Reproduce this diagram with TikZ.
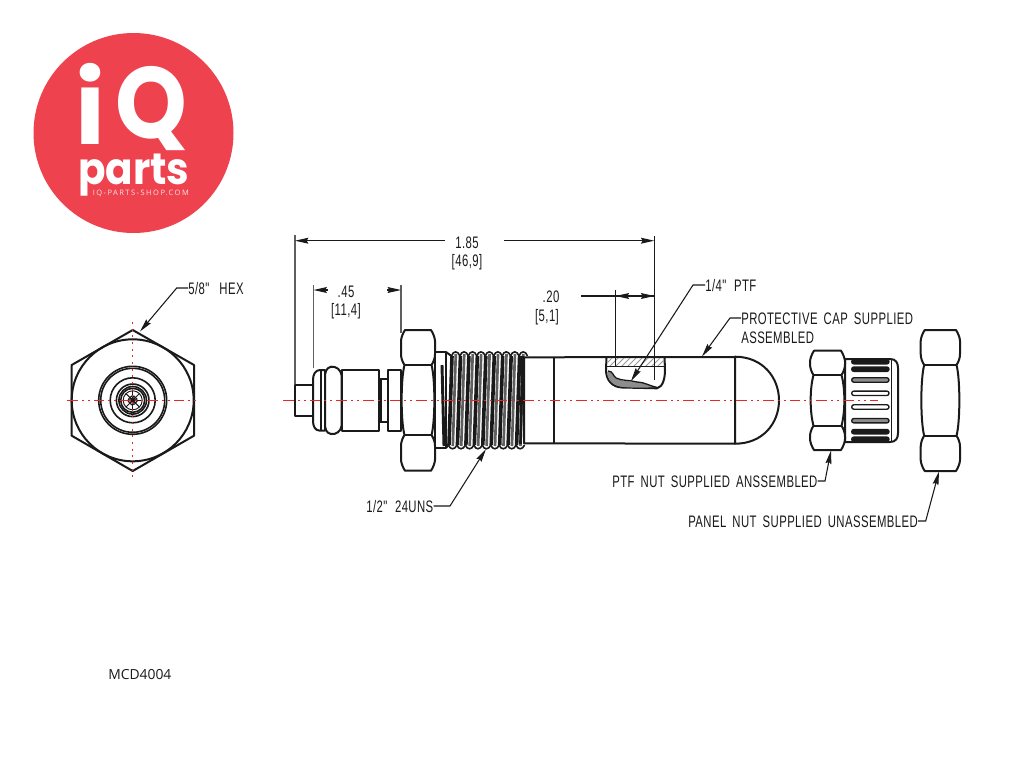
\documentclass[tikz,border=0pt]{standalone}
\usepackage{fontspec}
\usetikzlibrary{arrows.meta}
\setmainfont{Liberation Sans}
\newfontfamily\cad[FakeStretch=0.68,LetterSpace=2.6,WordSpace=1.7]{Liberation Sans}
\newfontfamily\pop{Poppins}
\newfontfamily\popn[FakeStretch=0.92]{Poppins}
\newfontfamily\popq[FakeStretch=0.9]{Poppins}
\newfontfamily\plain{Open Sans}
\definecolor{logored}{HTML}{EE424F}
\definecolor{cred}{HTML}{E8262C}
\definecolor{ink}{HTML}{1A1A1A}
\tikzset{
  part/.style={draw=ink,line width=1.5pt,line join=round,fill=white},
  edge/.style={draw=ink,line width=1.5pt,line join=round},
  thin ink/.style={draw=ink,line width=0.7pt},
  ext/.style={draw=ink!70,line width=1pt},
  dimline/.style={draw=ink,line width=0.9pt},
  tipped/.style={draw=ink,line width=0.8pt,-{Stealth[length=10pt,width=4.4pt,inset=1.2pt]}},
  centre h/.style={draw=cred,line width=0.8pt,dash pattern=on 8pt off 3pt on 1.5pt off 3pt on 1.5pt off 3pt},
  centre v/.style={draw=cred,line width=0.9pt,dash pattern=on 1.5pt off 3.5pt},
  lbl/.style={inner sep=0pt,anchor=base west,font=\cad\fontsize{12.5}{14}\selectfont,text=ink},
  lblc/.style={inner sep=0pt,anchor=base,font=\cad\fontsize{12.5}{14}\selectfont,text=ink},
}
% side view of a hexagon nut: L, R, T, y1, y2, B
\newcommand{\nutside}[6]{%
  \path[part] ({#1+4},#3) -- ({#2-4},#3)
    .. controls ({#2-2},{#3+3}) and (#2,{#3+8}) .. (#2,{#3+11})
    -- (#2,{#4-11}) .. controls (#2,{#4-7}) and ({#2-1.5},{#4-3}) .. ({#2-3.5},#4)
    .. controls ({#2+0.3},{#4+14}) and ({#2+0.3},{#5-14}) .. ({#2-3.5},#5)
    .. controls ({#2-1.5},{#5+3}) and (#2,{#5+7}) .. (#2,{#5+11})
    -- (#2,{#6-11}) .. controls (#2,{#6-8}) and ({#2-2},{#6-3}) .. ({#2-4},#6)
    -- ({#1+4},#6)
    .. controls ({#1+2},{#6-3}) and (#1,{#6-8}) .. (#1,{#6-11})
    -- (#1,{#5+11}) .. controls (#1,{#5+7}) and ({#1+1.5},{#5+3}) .. ({#1+3.5},#5)
    .. controls ({#1-0.3},{#5-14}) and ({#1-0.3},{#4+14}) .. ({#1+3.5},#4)
    .. controls ({#1+1.5},{#4-3}) and (#1,{#4-7}) .. (#1,{#4-11})
    -- (#1,{#3+11}) .. controls (#1,{#3+8}) and ({#1+2},{#3+3}) .. ({#1+4},#3) -- cycle;
  \draw[edge] ({#1+3.5},#4) -- ({#2-3.5},#4);
  \draw[edge] ({#1+3.5},#5) -- ({#2-3.5},#5);
}
\begin{document}
\begin{tikzpicture}[x=0.75pt,y=-0.75pt]
\useasboundingbox (0,0) rectangle (1024,768);
\fill[white] (0,0) rectangle (1024,768);

% ---------- logo
\fill[logored] (133.5,133) circle (100);
\node[inner sep=0pt,anchor=base west,text=white,font=\pop\bfseries\fontsize{76}{76}\selectfont] (logoi) at (75,144) {i};
\node[inner sep=0pt,anchor=base west,text=white,font=\popq\bfseries\fontsize{76}{76}\selectfont] (logoq) at (115,138) {Q};
\node[inner sep=0pt,anchor=base west,text=white,font=\popn\bfseries\fontsize{33}{33}\selectfont] (logoparts) at (78,184) {parts};
\node[inner sep=0pt,anchor=base west,text=white!85!logored,font=\plain\fontsize{5.6}{6}\selectfont] (logourl) at (92.5,195.5) {\addfontfeatures{LetterSpace=20}IQ-PARTS-SHOP.COM};

% ---------- end view
\path[part] (132.7,330) -- (194,365) -- (194,435.7) -- (132.7,471) -- (71.7,435.7) -- (71.7,365) -- cycle;
\draw[edge] (132.7,400.3) circle (61);
\foreach \r in {34,32,22.5,16.3,13.8,12}{\draw[edge,line width=1.2pt] (132.7,400.3) circle (\r);}
\draw[thin ink] (132.7,400.3) circle (9.5);
\foreach \a in {0,45,...,315}{\draw[thin ink] (132.7,400.3) -- ++(\a:-9.5);}
\foreach \a in {22,67,...,337}{\draw[thin ink] (132.7,400.3) ++(\a:3) circle (1.6);}
\draw[centre h] (67,400.3) -- (197,400.3);
\draw[centre v] (132.7,322) -- (132.7,482);

% ---------- main body
\path[part] (295,385) rectangle (313,415.7);
\path[part] (325,370) -- (320,370) .. controls (315,370) and (313,375) .. (313,380) -- (313,421) .. controls (313,426) and (315,430.7) .. (320,430.7) -- (325,430.7) -- cycle;
\draw[edge] (321,371) -- (321,430);
\path[part] (331,366.7) .. controls (326,368) and (325,372) .. (325,378) -- (325,423) .. controls (325,429) and (326,433) .. (331,434) .. controls (336,435) and (341,431) .. (341.5,426) -- (341.5,375) .. controls (341,370) and (336,366) .. (331,366.7) -- cycle;
\path[part] (341.5,370) rectangle (379,430.7);
\path[part] (379,379) rectangle (387.5,421.7);
\draw[edge,line width=2pt] (380.5,379) -- (380.5,421.7);
\path[part] (388,370) rectangle (401,431);

% thread
\path[fill=white] (446,353) rectangle (524,447);
\foreach \i in {0,...,8}{
  \pgfmathsetmacro{\xa}{451.5+8.45*\i}
  \draw[ink,line width=2.7pt] (\xa+0.5,356) -- (\xa-2.5,445);
  \draw[ink!70,line width=2pt] (\xa+4.3,354) -- (\xa+1.3,446);
  \draw[edge,line width=1.2pt] (\xa,356) .. controls (\xa+1.5,350.5) and (\xa+6.5,350.5) .. (\xa+8.45,356);
  \draw[edge,line width=1.2pt] (\xa-3,445) .. controls (\xa-1.5,450) and (\xa+3.5,450) .. (\xa+5.45,445);
}
\draw[edge] (446,352) -- (451.5,356);
\draw[edge] (446,448) -- (448.5,445);
\draw[ink,line width=2pt] (522.5,356) -- (520.5,444);

% washer and hex
\path[part] (435,351.7) rectangle (446,448);
\draw[ink,line width=2.2pt] (442,365) -- (444,446);
\nutside{401}{435}{330}{365}{435}{470.7}

% body
\path[part] (524,357.3) -- (735,357) -- (735,443.7) -- (524,443.3) -- cycle;
\draw[edge] (553.5,357) -- (553.5,443.7);
\path[part] (735,356.7) .. controls (763,356.7) and (779,378) .. (779,400.3) .. controls (779,423) and (763,443.7) .. (735,443.7) -- cycle;

% cut-away
\path[part] (606.5,357) -- (606,370) .. controls (606,380) and (612,387) .. (622,387.5) -- (657,388.3) .. controls (663,387) and (665,378) .. (665,370) -- (664.5,357) -- cycle;
\begin{scope}
\clip (608,358) rectangle (664,366.5);
\foreach \h in {596,602,...,668}{\draw[ink!45,line width=0.7pt] (\h,368) -- (\h+12,356);}
\end{scope}
\draw[thin ink,line width=0.9pt] (607,366.7) -- (665,366.7);
\fill[ink!50] (607,372) .. controls (613,371) and (613,376) .. (615,378) .. controls (620,381) and (628,381) .. (635,382) .. controls (642,382) and (650,386) .. (657,387) .. controls (645,388) and (625,388) .. (618,386) .. controls (611,384) and (607,378) .. (607,372) -- cycle;
\draw[ink,line width=1pt] (608,371) .. controls (613,371) and (613,376) .. (616,378) .. controls (622,381) and (630,380) .. (637,382) .. controls (644,382) and (650,386) .. (657,387.5);

% PTF nut + knurl
\path[part] (845,359) -- (890,359) .. controls (896,359) and (898,363) .. (898,368) -- (898,433) .. controls (898,438) and (896,442) .. (890,442) -- (845,442) -- cycle;
\draw[edge,line width=1pt] (891.7,360) -- (891.7,441);
\foreach \yy/\cc in {361.7/ink,369.2/ink,380/ink!50,393.3/white,407/white,420.7/ink!50,431.7/ink,439.3/ink}{
  \draw[draw=ink,line width=1pt,fill=\cc,rounded corners=1.6pt] (851.7,\yy-2.2) rectangle (889,\yy+2.2);
}
\nutside{810}{845}{350.7}{375}{425.7}{450}
\draw[centre h] (283,400.3) -- (878,400.3);
\nutside{920.7}{960}{330}{365}{435.7}{471}

% ---------- named points
\coordinate (hexcorner) at (140,331.5);
\coordinate (bend hex) at (176.7,288);
\coordinate (threadedge) at (486,449);
\coordinate (bend thread) at (450,506);
\coordinate (ptfhole) at (631,381);
\coordinate (bend ptf) at (693,285);
\coordinate (captop) at (702,356.5);
\coordinate (bend cap) at (730,318);
\coordinate (nutedge) at (831,450.5);
\coordinate (bend nut) at (825,481);
\coordinate (panelnutedge) at (939,471.5);
\coordinate (bend panel) at (925.7,521);

% ---------- labels
\node[lbl] (hexlabel) at (188,294) {5/8"\hspace{3pt} HEX};
\node[lbl] (threadlabel) at (366,512) {1/2"\hspace{1.2pt} 24UNS};
\node[lbl] (ptflabel) at (705,291) {1/4"\hspace{1.2pt} PTF};
\node[lbl] (caplabel) at (741,324) {PROTECTIVE CAP SUPPLIED};
\node[lbl] (caplabelb) at (741,343) {ASSEMBLED};
\node[lbl] (nutlabel) at (612,487) {PTF NUT SUPPLIED ANSSEMBLED};
\node[lbl] (panellabel) at (688,527) {PANEL NUT SUPPLIED UNASSEMBLED};
\node[inner sep=0pt,anchor=base west,font=\plain\fontsize{10.4}{12}\selectfont,text=ink] (partno) at (108,679) {MCD4004};

\draw[tipped] (hexlabel.west |- 0,288) -- (bend hex) -- (hexcorner);
\draw[tipped] (threadlabel.east |- 0,506) -- (bend thread) -- (threadedge);
\draw[tipped] (ptflabel.west |- 0,285) -- (bend ptf) -- (ptfhole);
\draw[tipped] (caplabel.west |- 0,318) -- (bend cap) -- (captop);
\draw[tipped] (nutlabel.east |- 0,481) -- (bend nut) -- (nutedge);
\draw[tipped] (panellabel.east |- 0,521) -- (bend panel) -- (panelnutedge);

% ---------- dimensions
\node[lblc] (dimA) at (467,248) {1.85};
\node[lblc] (dimAm) at (467,266) {[46,9]};
\node[lblc] (dimB) at (346,297) {.45};
\node[lblc] (dimBm) at (346,315) {[11,4]};
\node[lblc] (dimC) at (551,302) {.20};
\node[lblc] (dimCm) at (547,321) {[5,1]};
\coordinate (a1) at (295,240.7); \coordinate (a2) at (654.3,240.7);
\coordinate (a3) at (445,240.7); \coordinate (a4) at (504,240.7);
\coordinate (b1) at (313.5,290); \coordinate (b2) at (401,290);
\coordinate (b3) at (328,290); \coordinate (b4) at (387,290);
\coordinate (c1) at (615.7,296); \coordinate (c2) at (654.3,296);
\coordinate (c3) at (630,296); \coordinate (c4) at (640,296); \coordinate (c5) at (581,296);
\draw[ext] (295,235) -- (295,384);
\draw[ext] (313.5,285) -- (313.5,368);
\draw[ext] (401,285) -- (401,333);
\draw[thin ink,line width=0.9pt] (654.3,236) -- (654.3,380);
\draw[thin ink,line width=0.9pt] (615.7,290) -- (615.7,366);
\draw[tipped] (a3) -- (a1);
\draw[tipped] (a4) -- (a2);
\draw[tipped] (b3) -- (b1);
\draw[tipped] (b4) -- (b2);
\draw[dimline] (c5) -- (c2);
\draw[tipped] (c3) -- (c1);
\draw[tipped] (c4) -- (c2);
\end{tikzpicture}
\end{document}
